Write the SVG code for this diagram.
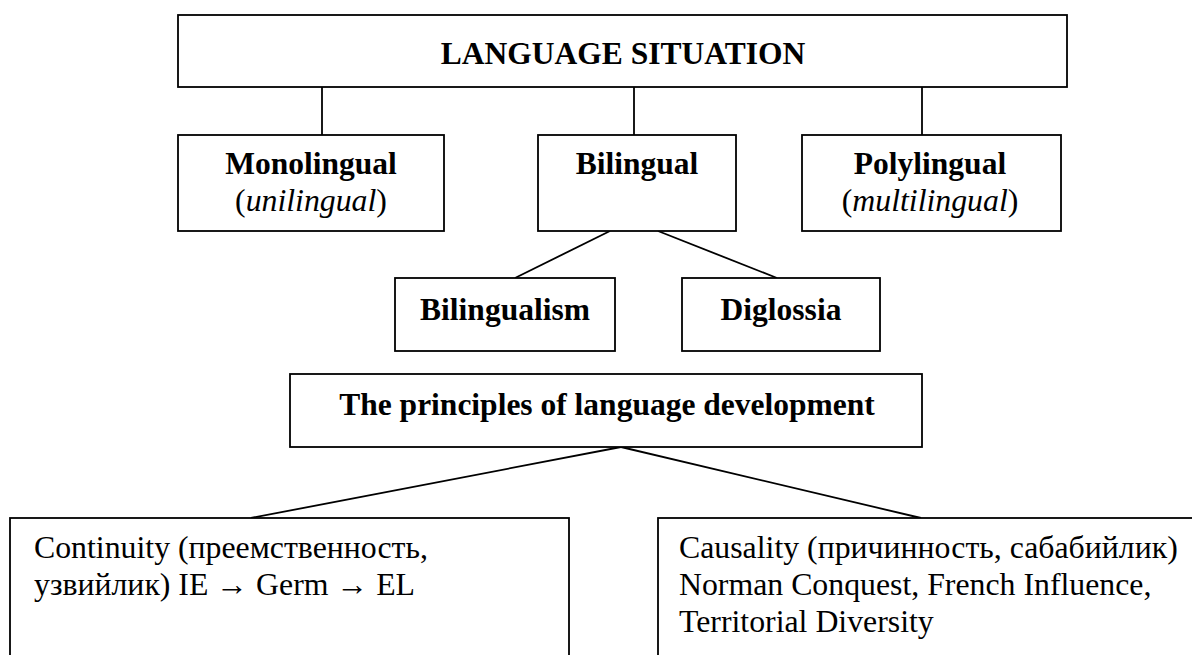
<svg xmlns="http://www.w3.org/2000/svg" width="1192" height="655" viewBox="0 0 1192 655">
<style>
.box{fill:#fff;stroke:#000;stroke-width:1.8}
.ln{stroke:#000;stroke-width:1.8;fill:none}
.b{font-family:"Liberation Serif","Times New Roman",serif;font-weight:bold;font-size:31.5px;fill:#000}
.r{font-family:"Liberation Serif","Times New Roman",serif;font-size:31.8px;fill:#000}
.i{font-style:italic}
</style>
<rect width="1192" height="655" fill="#fff"/>
<g id="connectors">
<line class="ln" x1="322" y1="87" x2="322" y2="135"/>
<line class="ln" x1="634" y1="87" x2="634" y2="135"/>
<line class="ln" x1="922" y1="87" x2="922" y2="135"/>
<line class="ln" x1="610" y1="231" x2="515" y2="278"/>
<line class="ln" x1="658" y1="231" x2="777" y2="278"/>
<line class="ln" x1="621" y1="447" x2="251" y2="518"/>
<line class="ln" x1="621" y1="447" x2="921" y2="518"/>
</g>
<g id="language-situation">
<rect class="box" x="178" y="15" width="889" height="72"/>
<text class="b" x="623" y="64" text-anchor="middle">LANGUAGE SITUATION</text>
</g>
<g id="monolingual">
<rect class="box" x="178" y="135" width="266" height="96"/>
<text class="b" x="311" y="174" text-anchor="middle">Monolingual</text>
<text class="r" x="311" y="211" text-anchor="middle">(<tspan class="i">unilingual</tspan>)</text>
</g>
<g id="bilingual">
<rect class="box" x="538" y="135" width="198" height="96"/>
<text class="b" x="637" y="174" text-anchor="middle">Bilingual</text>
</g>
<g id="polylingual">
<rect class="box" x="802" y="135" width="259" height="96"/>
<text class="b" x="930" y="174" text-anchor="middle">Polylingual</text>
<text class="r" x="930" y="211" text-anchor="middle">(<tspan class="i">multilingual</tspan>)</text>
</g>
<g id="bilingualism">
<rect class="box" x="395" y="278" width="220" height="73"/>
<text class="b" x="505" y="320" text-anchor="middle">Bilingualism</text>
</g>
<g id="diglossia">
<rect class="box" x="682" y="278" width="198" height="73"/>
<text class="b" x="781" y="320" text-anchor="middle">Diglossia</text>
</g>
<g id="principles">
<rect class="box" x="290" y="374" width="632" height="73"/>
<text class="b" x="607" y="415" text-anchor="middle">The principles of language development</text>
</g>
<g id="continuity">
<rect class="box" x="10" y="518" width="559" height="150"/>
<text class="r" x="34" y="558">Continuity (преемственность,</text>
<text class="r" x="34" y="595">узвийлик) IE → Germ → EL</text>
</g>
<g id="causality">
<rect class="box" x="658" y="518" width="560" height="150"/>
<text class="r" x="679" y="558">Causality (причинность, сабабийлик)</text>
<text class="r" x="679" y="595">Norman Conquest, French Influence,</text>
<text class="r" x="679" y="632">Territorial Diversity</text>
</g>
</svg>
